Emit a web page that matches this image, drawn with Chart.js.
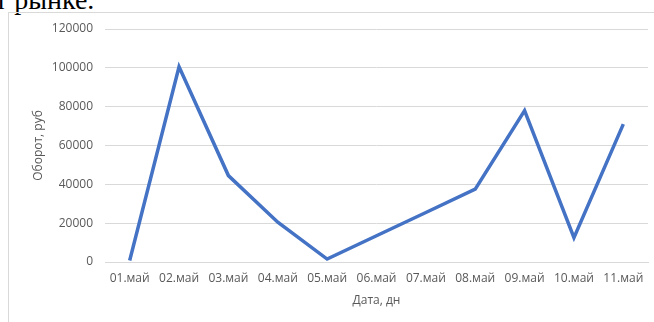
<!DOCTYPE html>
<html lang="ru">
<head>
<meta charset="utf-8">
<title>Оборот по дням</title>
<script src="https://cdn.jsdelivr.net/npm/chart.js@4/dist/chart.umd.min.js"></script>
<style>
  html, body { margin: 0; padding: 0; background: #ffffff; overflow: hidden; }
  body { width: 654px; height: 322px; position: relative; }
  .lead {
    position: absolute; left: -5px; top: -14px;
    font-family: "Liberation Serif", "DejaVu Serif", serif;
    font-size: 28px; line-height: 28px; color: #000; white-space: nowrap;
  }
  .frame {
    position: absolute; left: 8px; top: 12px; width: 700px; height: 400px;
    border: 1px solid #d9d9d9; box-sizing: border-box;
  }
  #chart { position: absolute; left: 0; top: 0; }
</style>
</head>
<body>
<div class="lead">т рынке.</div>
<div class="frame"></div>
<canvas id="chart" width="654" height="322"></canvas>
<script>
// Daily turnover for the first eleven days of May
const categories = ['01.май', '02.май', '03.май', '04.май', '05.май', '06.май',
                    '07.май', '08.май', '09.май', '10.май', '11.май'];
const turnover = [800, 100500, 44500, 20500, 1500, 13500, 25500, 37500, 78000, 12500, 71000];
const yTicks = [0, 20000, 40000, 60000, 80000, 100000, 120000];

const textGray = '#595959';
const gridGray = '#d9d9d9';
const tickFont = { family: '"Open Sans", "Liberation Sans", sans-serif', size: 12 };

new Chart(document.getElementById('chart'), {
  type: 'line',
  data: {
    labels: categories,
    datasets: [{
      data: turnover,
      borderColor: '#4472c4',
      borderWidth: 3.5,
      pointRadius: 0,
      tension: 0,
      fill: false
    }]
  },
  options: {
    responsive: false,
    animation: false,
    devicePixelRatio: 1,
    layout: { padding: { left: 0, right: 6, top: 29, bottom: 0 } },
    plugins: { legend: { display: false }, tooltip: { enabled: false } },
    scales: {
      x: {
        offset: true,
        grid: { display: false, drawTicks: false },
        border: { display: true, color: gridGray, width: 1 },
        ticks: { color: textGray, font: tickFont, padding: 9, maxRotation: 0, autoSkip: false },
        title: {
          display: true, text: 'Дата, дн', color: textGray, font: tickFont,
          padding: { top: 0, bottom: 14 }
        },
        afterFit: (scale) => { scale.height = 60; }
      },
      y: {
        min: yTicks[0],
        max: yTicks[yTicks.length - 1],
        afterBuildTicks: (scale) => { scale.ticks = yTicks.map(v => ({ value: v })); },
        grid: { color: gridGray, lineWidth: 1, drawTicks: false },
        border: { display: false },
        ticks: { color: textGray, font: tickFont, padding: 12, callback: (v) => String(v) },
        title: {
          display: true, text: 'Оборот, руб', color: textGray, font: tickFont,
          padding: { top: 31, bottom: 0 }
        },
        afterFit: (scale) => { scale.width = 105; }
      }
    }
  }
});
</script>
</body>
</html>
